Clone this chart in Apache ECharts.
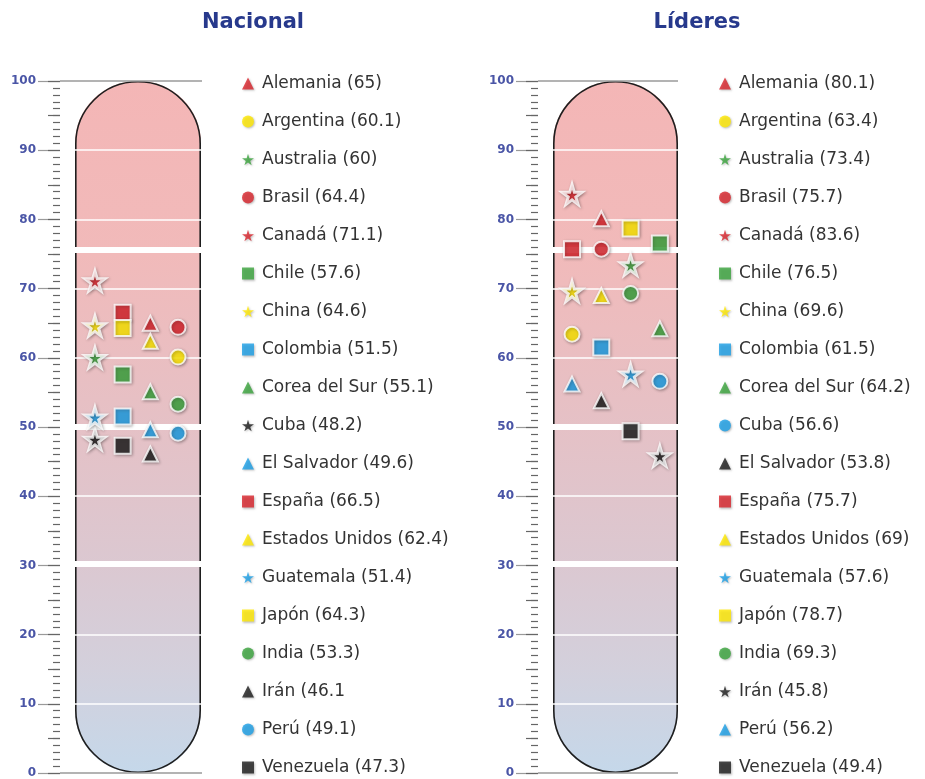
<!DOCTYPE html>
<html>
<head>
<meta charset="utf-8">
<script src="https://cdn.jsdelivr.net/npm/echarts@6/dist/echarts.min.js"></script>
<style>
  html, body { margin: 0; padding: 0; background: #fff; }
  #chart { width: 925px; height: 779px; }
</style>
</head>
<body>
<div id="chart"></div>
<script>
// countries, same order in both legends
const countries = ['Alemania', 'Argentina', 'Australia', 'Brasil', 'Canadá', 'Chile', 'China', 'Colombia',
  'Corea del Sur', 'Cuba', 'El Salvador', 'España', 'Estados Unidos', 'Guatemala', 'Japón', 'India',
  'Irán', 'Perú', 'Venezuela'];

const nacionalValues = [65, 60.1, 60, 64.4, 71.1, 57.6, 64.6, 51.5, 55.1, 48.2, 49.6, 66.5, 62.4, 51.4, 64.3, 53.3, 46.1, 49.1, 47.3];
const nacionalShapes = ['triangle', 'circle', 'star', 'circle', 'star', 'rect', 'star', 'rect', 'triangle', 'star',
  'triangle', 'rect', 'triangle', 'star', 'rect', 'circle', 'triangle', 'circle', 'rect'];
const nacionalColors = ['red', 'yellow', 'green', 'red', 'red', 'green', 'yellow', 'blue', 'green', 'black',
  'blue', 'red', 'yellow', 'blue', 'yellow', 'green', 'black', 'blue', 'black'];
const nacionalColumns = [3, 4, 1, 4, 1, 2, 1, 2, 3, 1, 3, 2, 3, 1, 2, 4, 3, 4, 2];

const lideresValues = [80.1, 63.4, 73.4, 75.7, 83.6, 76.5, 69.6, 61.5, 64.2, 56.6, 53.8, 75.7, 69, 57.6, 78.7, 69.3, 45.8, 56.2, 49.4];
const lideresShapes = ['triangle', 'circle', 'star', 'circle', 'star', 'rect', 'star', 'rect', 'triangle', 'circle',
  'triangle', 'rect', 'triangle', 'star', 'rect', 'circle', 'star', 'triangle', 'rect'];
const lideresColors = ['red', 'yellow', 'green', 'red', 'red', 'green', 'yellow', 'blue', 'green', 'blue',
  'black', 'red', 'yellow', 'blue', 'yellow', 'green', 'black', 'blue', 'black'];
const lideresColumns = [2, 1, 3, 2, 1, 4, 1, 2, 4, 4, 2, 1, 2, 3, 3, 3, 4, 1, 3];

const yTicks = [0, 10, 20, 30, 40, 50, 60, 70, 80, 90, 100];
const thinLines = [10, 20, 40, 60, 70, 80, 90];
const thickLines = [75.6, 50, 30.3];

const palette = { red: '#d8232a', yellow: '#ffe900', green: '#3aa43c', blue: '#1a9fe6', black: '#1c1c1c' };
const STAR = 'path://M50,0 L61,35 L98,35 L68,57 L79,91 L50,70 L21,91 L32,57 L2,35 L39,35 Z';
const symbols = { star: STAR, rect: 'rect', triangle: 'triangle', circle: 'circle' };
const sizes = { star: 20, rect: 16, triangle: 15, circle: 15 };

const nacionalLabels = countries.map((c, i) => c + ' (' + nacionalValues[i] + ')');
nacionalLabels[16] = 'Irán (46.1'; // as printed in the original
const lideresLabels = countries.map((c, i) => c + ' (' + lideresValues[i] + ')');

const FONT = 'DejaVu Sans';
const chart = echarts.init(document.getElementById('chart'));

function tubeFill() {
  return new echarts.graphic.LinearGradient(0, 0, 0, 1, [
    { offset: 0, color: '#f4b6b6' },
    { offset: 0.25, color: '#f1baba' },
    { offset: 0.5, color: '#e5c1c6' },
    { offset: 0.7, color: '#dbc8d1' },
    { offset: 0.85, color: '#d3d0dc' },
    { offset: 1, color: '#c5d8ea' }
  ]);
}

function yAxes(grid) {
  return [{
    gridIndex: grid, type: 'value', position: 'left', min: 0, max: 100, interval: 10,
    axisLine: { show: false },
    axisTick: { length: 22, lineStyle: { color: '#9a9a9a', width: 1.2 } },
    minorTick: { show: true, splitNumber: 10, length: 7, lineStyle: { color: '#666', width: 1.2 } },
    splitLine: { show: false },
    axisLabel: { margin: 24, color: '#4a55a6', fontWeight: 'bold', fontSize: 12, fontFamily: FONT,
      formatter: v => yTicks.includes(v) ? String(v) : '' }
  }, {
    gridIndex: grid, type: 'value', position: 'left', min: 0, max: 100, interval: 5,
    axisLine: { show: false },
    axisTick: { length: 12, lineStyle: { color: '#666', width: 1.2 } },
    axisLabel: { show: false }, splitLine: { show: false }
  }, {
    gridIndex: grid + 1, type: 'value', min: 0, max: 100, show: false
  }];
}

function panelSeries(p, labels, values, shapes, colors, columns) {
  const gx = p * 3, gy = p * 3;
  const out = [];
  // grey rule at 0 and 100, from the ticks to the tube
  out.push({
    type: 'line', xAxisIndex: gx, yAxisIndex: gy, data: [[0, 100]], showSymbol: false, silent: true,
    lineStyle: { opacity: 0 },
    markLine: { silent: true, symbol: ['none', 'none'], label: { show: false },
      lineStyle: { color: '#9a9a9a', width: 1.5, type: 'solid' },
      data: [{ yAxis: 100 }, { yAxis: 0 }] }
  });
  out.push({
    type: 'bar', xAxisIndex: gx + 1, yAxisIndex: gy + 2, data: [100], barWidth: '100%', silent: true, z: 1,
    itemStyle: { color: tubeFill(), borderRadius: 62 },
    markLine: { silent: true, symbol: ['none', 'none'], label: { show: false },
      data: thinLines.map(v => ({ yAxis: v, lineStyle: { color: '#fff', width: 1.5, type: 'solid' } }))
        .concat(thickLines.map(v => ({ yAxis: v, lineStyle: { color: '#fff', width: 6, type: 'solid' } }))) }
  });
  out.push({
    type: 'bar', xAxisIndex: gx + 1, yAxisIndex: gy + 2, data: [100], barWidth: '100%', barGap: '-100%',
    silent: true, z: 3,
    itemStyle: { color: 'rgba(0,0,0,0)', borderColor: '#1e1e1e', borderWidth: 1.6, borderRadius: 62 }
  });
  labels.forEach((name, i) => {
    out.push({
      type: 'scatter', name: name, xAxisIndex: gx + 2, yAxisIndex: gy + 2, z: 5,
      symbol: symbols[shapes[i]], symbolSize: sizes[shapes[i]],
      itemStyle: { color: palette[colors[i]], borderColor: '#fff', borderWidth: shapes[i] === 'star' ? 3 : 2,
        shadowBlur: 3, shadowColor: 'rgba(0,0,0,0.35)', shadowOffsetX: 1, shadowOffsetY: 1 },
      data: [[columns[i], values[i]]]
    });
  });
  return out;
}

function legend(left, labels) {
  return {
    orient: 'vertical', left: left, top: 75, height: 704, padding: 0,
    itemWidth: 12, itemHeight: 12, itemGap: 21,
    selectedMode: false, data: labels,
    itemStyle: { borderWidth: 0, shadowBlur: 2, shadowColor: 'rgba(0,0,0,0.3)', shadowOffsetX: 1, shadowOffsetY: 1 },
    textStyle: { color: '#333', fontSize: 17, fontFamily: FONT, padding: [0, 0, 0, 3] }
  };
}

chart.setOption({
  animation: false,
  title: [
    { text: 'Nacional', left: 248, top: 7, textAlign: 'center',
      textStyle: { color: '#27398c', fontSize: 21, fontWeight: 'bold', fontFamily: FONT } },
    { text: 'Líderes', left: 692, top: 7, textAlign: 'center',
      textStyle: { color: '#27398c', fontSize: 21, fontWeight: 'bold', fontFamily: FONT } }
  ],
  legend: [legend(242, nacionalLabels), legend(719, lideresLabels)],
  grid: [
    { left: 60, top: 81, width: 142, height: 692 },
    { left: 75, top: 81, width: 126, height: 692 },
    { left: 538, top: 81, width: 140, height: 692 },
    { left: 553, top: 81, width: 125, height: 692 }
  ],
  xAxis: [
    { gridIndex: 0, type: 'value', min: 0, max: 1, show: false },
    { gridIndex: 1, type: 'category', data: ['tubo'], show: false },
    { gridIndex: 1, type: 'value', min: 0.28, max: 4.83, show: false },
    { gridIndex: 2, type: 'value', min: 0, max: 1, show: false },
    { gridIndex: 3, type: 'category', data: ['tubo'], show: false },
    { gridIndex: 3, type: 'value', min: 0.35, max: 4.62, show: false }
  ],
  yAxis: yAxes(0).concat(yAxes(2)),
  series: panelSeries(0, nacionalLabels, nacionalValues, nacionalShapes, nacionalColors, nacionalColumns)
    .concat(panelSeries(1, lideresLabels, lideresValues, lideresShapes, lideresColors, lideresColumns))
});
</script>
</body>
</html>
